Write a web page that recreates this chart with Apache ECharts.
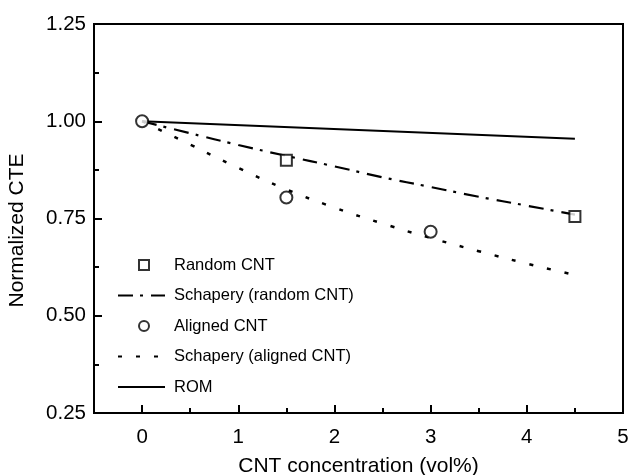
<!DOCTYPE html>
<html><head><meta charset="utf-8">
<script src="https://cdn.jsdelivr.net/npm/echarts@6/dist/echarts.min.js"></script>
<style>html,body{margin:0;padding:0;background:#fff}#c{width:629px;height:475px}</style>
</head><body><div id="c"></div>
<script>
// ---- data ----
const xMajorTicks = [0, 1, 2, 3, 4, 5];
const xMinorTicks = [0.5, 1.5, 2.5, 3.5, 4.5];
const randomX = [1.5, 4.5];
const randomY = [0.900, 0.755];
const alignedX = [0, 1.5, 3];
const alignedY = [1.000, 0.804, 0.716];
const schX = [0, 0.5, 1, 1.5, 2, 2.5, 3, 3.5, 4, 4.5];
const schRandomY = [1.000, 0.969, 0.939, 0.911, 0.884, 0.856, 0.831, 0.806, 0.783, 0.760];
const schAlignedY = [1.000, 0.940, 0.880, 0.825, 0.778, 0.737, 0.700, 0.666, 0.634, 0.605];
const romX = [0, 4.5];
const romY = [1.000, 0.955];
const names = ['Random CNT', 'Schapery (random CNT)', 'Aligned CNT', 'Schapery (aligned CNT)', 'ROM'];

const zip = (xs, ys) => xs.map((x, i) => [x, ys[i]]);
const FONT = 'Liberation Sans, Arial, sans-serif';
const FS = 20.5;
const FT = 21;

const legendCenters = [265, 295.5, 326, 356.5, 387];
function mkLegend(i, isMarker) {
  const item = { name: names[i] };
  if (!isMarker) item.itemStyle = { color: 'rgba(0,0,0,0)', borderColor: 'rgba(0,0,0,0)', borderWidth: 0, opacity: 0 };
  return {
    data: [item],
    orient: 'vertical',
    left: isMarker ? 138 : 117,
    top: legendCenters[i] - 10,
    padding: 0,
    itemWidth: isMarker ? 10 : 47,
    itemHeight: isMarker ? 10 : 14,
    selectedMode: false,
    textStyle: { color: '#000', fontFamily: FONT, fontSize: 16.5, lineHeight: 20,
                 padding: [0, 0, 0, isMarker ? 20 : 4] }
  };
}

const chart = echarts.init(document.getElementById('c'), null, { renderer: 'canvas' });
chart.setOption({
  backgroundColor: '#fff',
  animation: false,
  grid: { left: 94, right: 6, top: 24, bottom: 62, show: true, borderColor: '#000', borderWidth: 2,
          containLabel: false, outerBoundsMode: 'none' },
  legend: [mkLegend(0, true), mkLegend(1, false), mkLegend(2, true), mkLegend(3, false), mkLegend(4, false)],
  xAxis: [{
    type: 'value', min: -0.5, max: 5, position: 'bottom',
    name: 'CNT concentration (vol%)', nameLocation: 'middle', nameGap: 43,
    nameTextStyle: { color: '#000', fontFamily: FONT, fontSize: FT },
    axisLine: { show: true, onZero: false, lineStyle: { color: '#000', width: 2 } },
    axisTick: { show: true, inside: true, length: 8, customValues: xMajorTicks, lineStyle: { color: '#000', width: 2 } },
    axisLabel: { show: true, customValues: xMajorTicks, margin: 14, color: '#000', fontFamily: FONT, fontSize: FS },
    splitLine: { show: false }
  }, {
    type: 'value', min: -0.5, max: 5, position: 'bottom', offset: 0,
    axisLine: { show: false },
    axisTick: { show: true, inside: true, length: 5, customValues: xMinorTicks, lineStyle: { color: '#000', width: 2 } },
    axisLabel: { show: false, customValues: xMinorTicks },
    splitLine: { show: false }
  }],
  yAxis: {
    type: 'value', min: 0.25, max: 1.25, interval: 0.25,
    name: 'Normalized CTE', nameLocation: 'middle', nameGap: 66,
    nameTextStyle: { color: '#000', fontFamily: FONT, fontSize: FT, padding: [0, 24, 0, 0] },
    axisLine: { show: true, onZero: false, lineStyle: { color: '#000', width: 2 } },
    axisTick: { show: true, inside: true, length: 8, lineStyle: { color: '#000', width: 2 } },
    minorTick: { show: true, splitNumber: 2, length: 5, lineStyle: { color: '#000', width: 2 } },
    axisLabel: { margin: 8, color: '#000', fontFamily: FONT, fontSize: FS, formatter: v => v.toFixed(2) },
    splitLine: { show: false }
  },
  series: [
    { name: names[4], type: 'line', data: zip(romX, romY), symbol: 'none', showSymbol: false,
      lineStyle: { color: '#000', width: 2, type: 'solid' }, itemStyle: { color: '#000' }, z: 2 },
    { name: names[1], type: 'line', data: zip(schX, schRandomY), symbol: 'none', showSymbol: false, smooth: true,
      lineStyle: { color: '#000', width: 2.2, type: [15, 7, 3, 8] }, itemStyle: { color: '#000' }, z: 2 },
    { name: names[3], type: 'line', data: zip(schX, schAlignedY), symbol: 'none', showSymbol: false, smooth: true,
      lineStyle: { color: '#000', width: 2.5, type: [4, 14] }, itemStyle: { color: '#000' }, z: 2 },
    { name: names[0], type: 'scatter', data: zip(randomX, randomY), symbol: 'rect', symbolSize: 11,
      itemStyle: { color: '#fff', borderColor: '#000', borderWidth: 2 }, z: 5 },
    { name: names[2], type: 'scatter', data: zip(alignedX, alignedY), symbol: 'circle', symbolSize: 12,
      itemStyle: { color: '#fff', borderColor: '#000', borderWidth: 2 }, z: 5 }
  ]
});
</script></body></html>
